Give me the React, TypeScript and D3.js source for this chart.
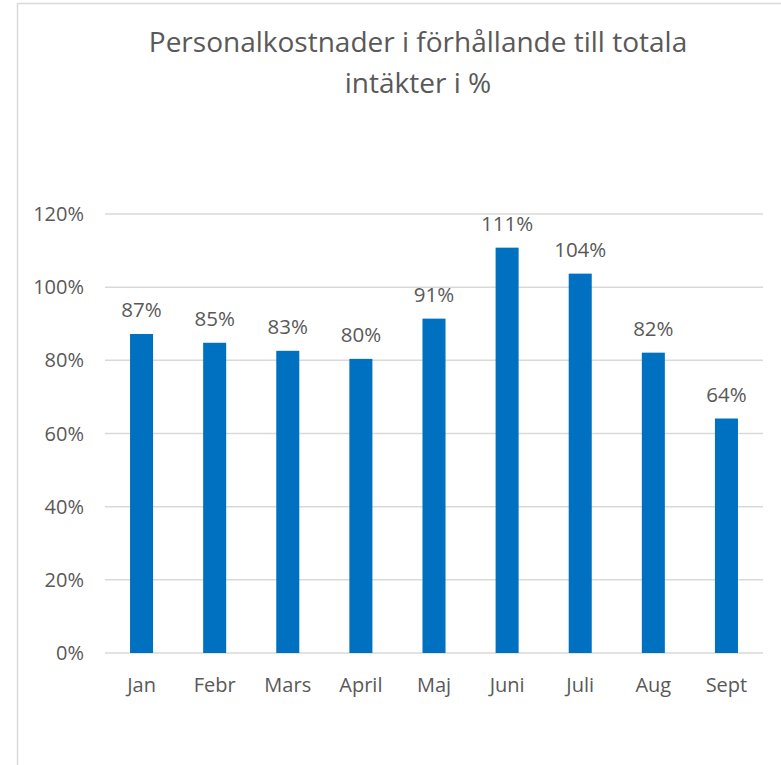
import React from "react";
import * as d3 from "d3";

const categories = ["Jan", "Febr", "Mars", "April", "Maj", "Juni", "Juli", "Aug", "Sept"];
const values = [87.2, 84.8, 82.6, 80.4, 91.4, 110.8, 103.7, 82.1, 64.1];
const yTicks = [0, 20, 40, 60, 80, 100, 120];
const titleLines = ["Personalkostnader i förhållande till totala", "intäkter i %"];

export default function App() {
  const W = 781, H = 765;
  const x = d3.scaleBand().domain(categories).range([105, 763]).paddingInner(0.685).paddingOuter(0.3425);
  const y = d3.scaleLinear().domain([0, 120]).range([653, 214]);
  const font = "'Open Sans', 'Noto Sans', sans-serif";
  const grey = "#595959";
  return (
    <svg width={W} height={H} style={{ position: "absolute", left: 0, top: 0 }}>
      <rect x={0} y={0} width={W} height={H} fill="#fff" />
      <rect x={17.5} y={3.5} width={900} height={900} fill="#fff" stroke="#d9d9d9" strokeWidth={1.5} />
      {titleLines.map((t, i) => (
        <text key={i} x={418} y={52 + i * 41} textAnchor="middle" fontFamily={font} fontSize={28} fill={grey}>{t}</text>
      ))}
      {yTicks.map((t) => (
        <g key={t}>
          <line x1={105} x2={763} y1={y(t)} y2={y(t)} stroke="#d9d9d9" strokeWidth={1.5} />
          <text x={84} y={y(t) + 7} textAnchor="end" fontFamily={font} fontSize={20} fill={grey}>{t}%</text>
        </g>
      ))}
      {categories.map((c, i) => {
        const bx = x(c)!;
        const cx = bx + x.bandwidth() / 2;
        return (
          <g key={c}>
            <rect x={bx} y={y(values[i])} width={x.bandwidth()} height={y(0) - y(values[i])} fill="#0070c0" />
            <text x={cx} y={y(values[i]) - 17} textAnchor="middle" fontFamily={font} fontSize={20.5} fill={grey}>{Math.round(values[i])}%</text>
            <text x={cx} y={692} textAnchor="middle" fontFamily={font} fontSize={20} fill={grey}>{c}</text>
          </g>
        );
      })}
    </svg>
  );
}
